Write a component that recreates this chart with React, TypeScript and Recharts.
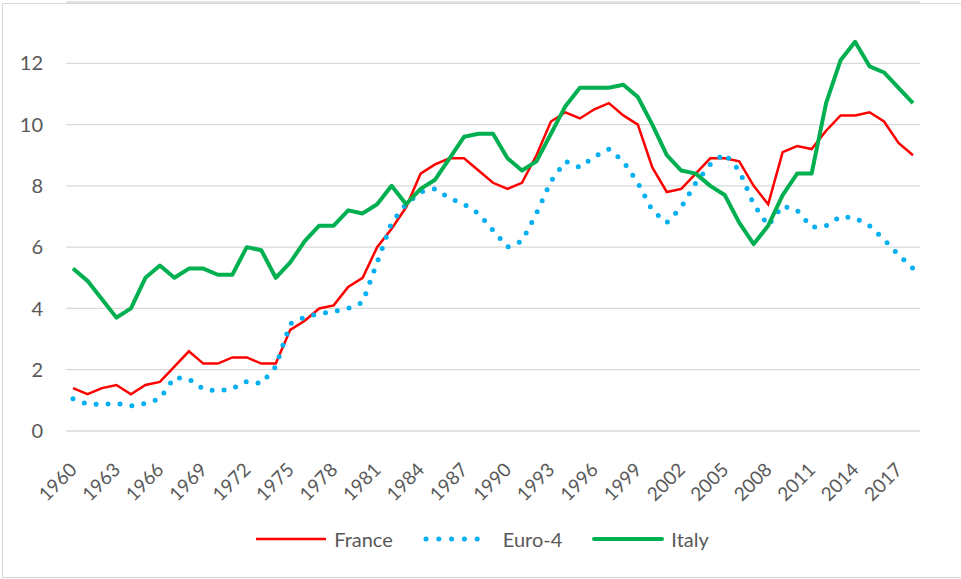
import { LineChart, Line, XAxis, YAxis, CartesianGrid, Legend } from "recharts";

const years = [
  1960, 1961, 1962, 1963, 1964, 1965, 1966, 1967, 1968, 1969,
  1970, 1971, 1972, 1973, 1974, 1975, 1976, 1977, 1978, 1979,
  1980, 1981, 1982, 1983, 1984, 1985, 1986, 1987, 1988, 1989,
  1990, 1991, 1992, 1993, 1994, 1995, 1996, 1997, 1998, 1999,
  2000, 2001, 2002, 2003, 2004, 2005, 2006, 2007, 2008, 2009,
  2010, 2011, 2012, 2013, 2014, 2015, 2016, 2017, 2018,
];

const france = [
  1.4, 1.2, 1.4, 1.5, 1.2, 1.5, 1.6, 2.1, 2.6, 2.2,
  2.2, 2.4, 2.4, 2.2, 2.2, 3.3, 3.6, 4.0, 4.1, 4.7,
  5.0, 6.0, 6.6, 7.3, 8.4, 8.7, 8.9, 8.9, 8.5, 8.1,
  7.9, 8.1, 9.0, 10.1, 10.4, 10.2, 10.5, 10.7, 10.3, 10.0,
  8.6, 7.8, 7.9, 8.4, 8.9, 8.9, 8.8, 8.0, 7.4, 9.1,
  9.3, 9.2, 9.8, 10.3, 10.3, 10.4, 10.1, 9.4, 9.0,
];

const euro4 = [
  1.05, 0.88, 0.87, 0.9, 0.82, 0.9, 1.05, 1.75, 1.7, 1.37,
  1.3, 1.38, 1.62, 1.55, 2.1, 3.5, 3.72, 3.83, 3.9, 4.0,
  4.2, 5.5, 6.8, 7.4, 7.8, 7.9, 7.6, 7.4, 7.1, 6.55,
  6.0, 6.2, 7.1, 8.15, 8.8, 8.6, 8.95, 9.2, 8.8, 8.1,
  7.2, 6.8, 7.3, 8.1, 8.7, 9.05, 8.5, 7.4, 6.7, 7.35,
  7.2, 6.65, 6.7, 7.0, 6.95, 6.7, 6.25, 5.75, 5.3,
];

const italy = [
  5.3, 4.9, 4.3, 3.7, 4.0, 5.0, 5.4, 5.0, 5.3, 5.3,
  5.1, 5.1, 6.0, 5.9, 5.0, 5.5, 6.2, 6.7, 6.7, 7.2,
  7.1, 7.4, 8.0, 7.4, 7.9, 8.2, 8.9, 9.6, 9.7, 9.7,
  8.9, 8.5, 8.8, 9.7, 10.6, 11.2, 11.2, 11.2, 11.3, 10.9,
  10.0, 9.0, 8.5, 8.4, 8.0, 7.7, 6.8, 6.1, 6.7, 7.7,
  8.4, 8.4, 10.7, 12.1, 12.7, 11.9, 11.7, 11.2, 10.7,
];

const yTicks = [0, 2, 4, 6, 8, 10, 12];

const data = years.map((year, i) => ({
  year: String(year),
  France: france[i],
  "Euro-4": euro4[i],
  Italy: italy[i],
}));

const FONT = "Lato, 'Open Sans', sans-serif";
const TEXT = "#595959";

function XTick({ x, y, payload }: any) {
  const ax = x + 5;
  const ay = y + 32;
  return (
    <text
      x={ax}
      y={ay}
      textAnchor="end"
      fill={TEXT}
      fontSize={19}
      fontFamily={FONT}
      transform={`rotate(-45, ${ax}, ${ay})`}
    >
      {payload.value}
    </text>
  );
}

function LegendContent() {
  const item = (label: string, icon: any, gap: number) => (
    <div style={{ display: "flex", alignItems: "center" }}>
      {icon}
      <span style={{ marginLeft: gap }}>{label}</span>
    </div>
  );
  return (
    <div
      style={{
        display: "flex",
        justifyContent: "center",
        gap: 30,
        fontFamily: FONT,
        fontSize: 20,
        color: TEXT,
        paddingLeft: 4,
      }}
    >
      {item(
        "France",
        <svg width={70} height={10}>
          <line x1={0} y1={5} x2={70} y2={5} stroke="#FF0000" strokeWidth={2.5} />
        </svg>,
        8
      )}
      {item(
        "Euro-4",
        <svg width={70} height={10}>
          <line
            x1={3}
            y1={5}
            x2={67}
            y2={5}
            stroke="#00B0F0"
            strokeWidth={5}
            strokeDasharray="0 12.8"
            strokeLinecap="round"
          />
        </svg>,
        10
      )}
      {item(
        "Italy",
        <svg width={72} height={10}>
          <line x1={2} y1={5} x2={70} y2={5} stroke="#00B050" strokeWidth={4} strokeLinecap="round" />
        </svg>,
        7
      )}
    </div>
  );
}

export default function App() {
  return (
    <div
      style={{
        position: "absolute",
        left: 0,
        top: 0,
        width: 961,
        height: 579,
        overflow: "hidden",
        background: "#fff",
      }}
    >
      <div
        style={{
          position: "absolute",
          left: 2,
          top: 3,
          width: 1000,
          height: 573,
          border: "1px solid #d9d9d9",
        }}
      />
      <LineChart
        width={961}
        height={579}
        data={data}
        margin={{ top: 2, right: 41, bottom: 0, left: 0 }}
      >
        <CartesianGrid vertical={false} stroke="#d9d9d9" strokeWidth={1.3} />
        <XAxis
          dataKey="year"
          interval={2}
          height={148}
          padding={{ left: 7, right: 7 }}
          axisLine={false}
          tickLine={false}
          tick={<XTick />}
        />
        <YAxis
          width={66}
          domain={[0, 14]}
          ticks={yTicks}
          axisLine={false}
          tickLine={false}
          tickSize={0}
          tickMargin={23}
          tick={{ fill: TEXT, fontSize: 20, fontFamily: FONT }}
        />
        <Legend
          verticalAlign="middle"
          align="center"
          layout="horizontal"
          wrapperStyle={{ top: 527, left: 0, width: 961 }}
          content={<LegendContent />}
        />
        <Line
          type="linear"
          dataKey="France"
          stroke="#FF0000"
          strokeWidth={2.5}
          dot={false}
          isAnimationActive={false}
        />
        <Line
          type="linear"
          dataKey="Euro-4"
          stroke="#00B0F0"
          strokeWidth={5}
          strokeDasharray="0 12"
          strokeLinecap="round"
          dot={false}
          isAnimationActive={false}
        />
        <Line
          type="linear"
          dataKey="Italy"
          stroke="#00B050"
          strokeWidth={4}
          strokeLinejoin="round"
          dot={false}
          isAnimationActive={false}
        />
      </LineChart>
    </div>
  );
}
